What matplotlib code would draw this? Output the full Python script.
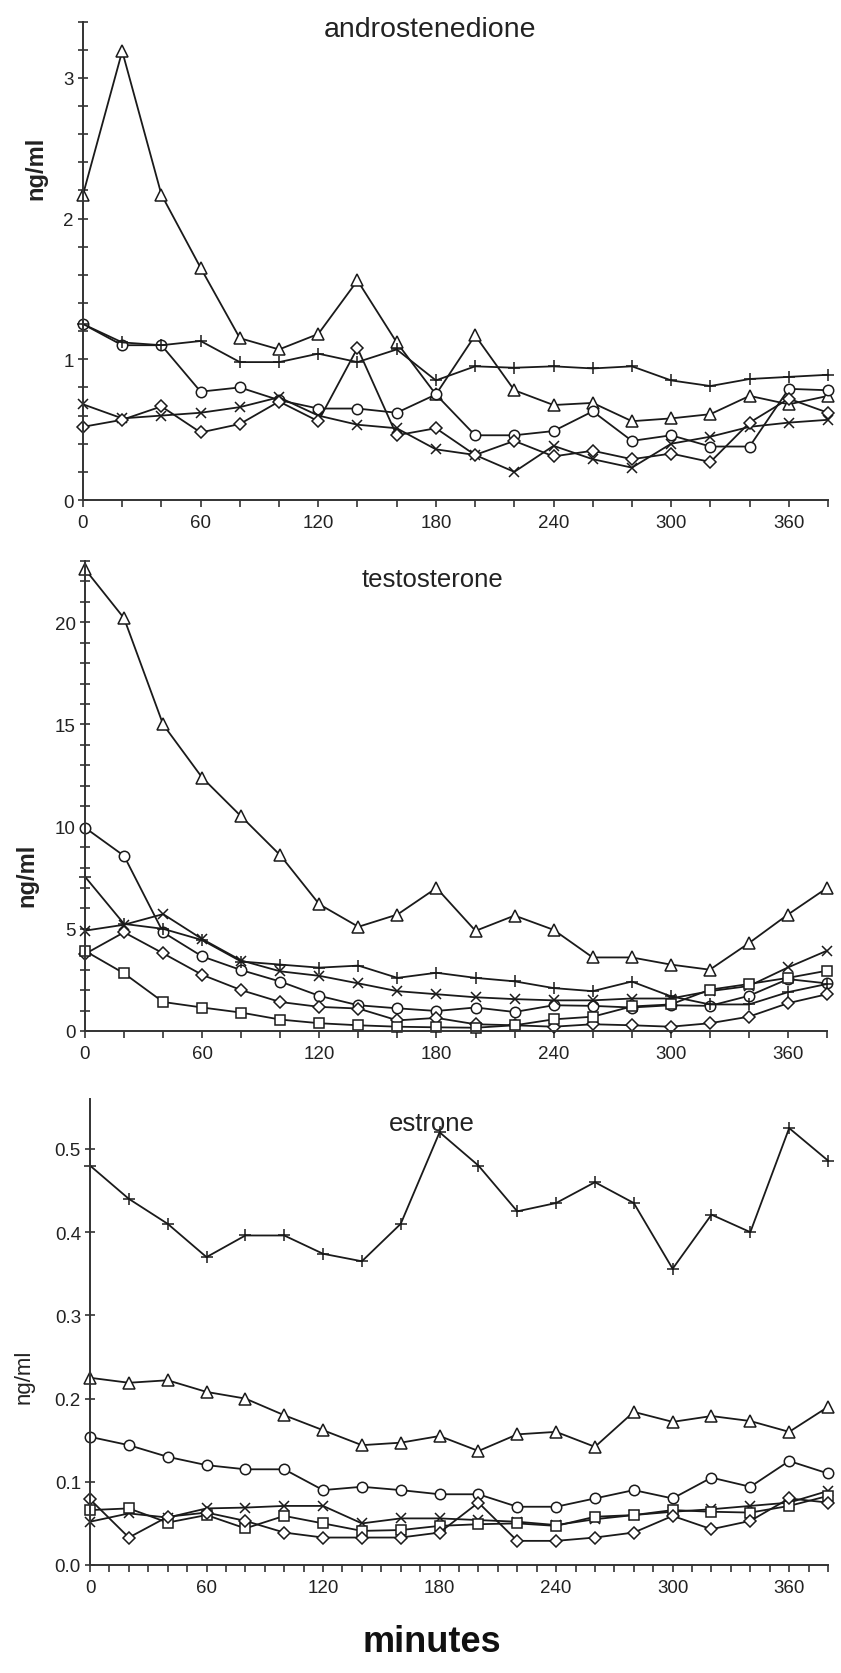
import matplotlib
matplotlib.use('Agg')
import matplotlib.pyplot as plt
from matplotlib.ticker import MultipleLocator, FormatStrFormatter

plt.rcParams['font.family'] = ['Liberation Sans', 'DejaVu Sans']

minutes = [0, 20, 40, 60, 80, 100, 120, 140, 160, 180,
           200, 220, 240, 260, 280, 300, 320, 340, 360, 380]

# androstenedione, ng/ml
andro_tri = [2.17, 3.19, 2.17, 1.65, 1.15, 1.07, 1.18, 1.56, 1.12, 0.75,
             1.17, 0.78, 0.675, 0.69, 0.56, 0.58, 0.61, 0.74, 0.68, 0.74]
andro_circle = [1.25, 1.10, 1.10, 0.77, 0.80, 0.71, 0.65, 0.65, 0.62, 0.75,
                0.46, 0.46, 0.49, 0.63, 0.42, 0.46, 0.38, 0.38, 0.79, 0.78]
andro_plus = [1.25, 1.12, 1.10, 1.13, 0.98, 0.98, 1.04, 0.98, 1.07, 0.85,
              0.95, 0.94, 0.95, 0.935, 0.95, 0.85, 0.81, 0.86, 0.875, 0.89]
andro_x = [0.68, 0.58, 0.60, 0.62, 0.66, 0.73, 0.60, 0.535, 0.51, 0.36,
           0.32, 0.20, 0.385, 0.29, 0.23, 0.40, 0.45, 0.52, 0.55, 0.57]
andro_diamond = [0.52, 0.57, 0.665, 0.48, 0.54, 0.70, 0.56, 1.08, 0.46, 0.51,
                 0.32, 0.42, 0.31, 0.35, 0.29, 0.33, 0.27, 0.55, 0.72, 0.62]

# testosterone, ng/ml
testo_tri = [22.6, 20.2, 15.0, 12.4, 10.5, 8.6, 6.2, 5.1, 5.7, 7.0,
             4.9, 5.65, 4.95, 3.6, 3.6, 3.25, 3.0, 4.3, 5.7, 7.0]
testo_circle = [9.95, 8.57, 4.83, 3.65, 2.98, 2.42, 1.72, 1.26, 1.11, 0.98,
                1.15, 0.93, 1.26, 1.23, 1.15, 1.26, 1.23, 1.72, 2.54, 2.33]
testo_plus = [7.55, 5.24, 5.0, 4.45, 3.4, 3.25, 3.1, 3.2, 2.6, 2.85,
              2.6, 2.43, 2.1, 1.95, 2.42, 1.7, 1.3, 1.3, 1.9, 2.3]
testo_x = [4.91, 5.2, 5.72, 4.5, 3.45, 2.92, 2.7, 2.33, 1.95, 1.8,
           1.65, 1.56, 1.5, 1.5, 1.59, 1.59, 1.95, 2.2, 3.11, 3.93]
testo_diamond = [3.77, 4.83, 3.8, 2.75, 2.0, 1.42, 1.18, 1.1, 0.52, 0.64,
                 0.33, 0.28, 0.21, 0.33, 0.28, 0.21, 0.38, 0.7, 1.36, 1.8]
testo_square = [3.92, 2.82, 1.42, 1.15, 0.9, 0.56, 0.38, 0.28, 0.21, 0.18,
                0.16, 0.28, 0.57, 0.7, 1.2, 1.3, 2.02, 2.3, 2.6, 2.95]

# estrone, ng/ml
estr_plus = [0.480, 0.440, 0.410, 0.370, 0.396, 0.396, 0.374, 0.365, 0.410, 0.520,
             0.480, 0.425, 0.435, 0.460, 0.435, 0.356, 0.421, 0.400, 0.525, 0.486]
estr_tri = [0.225, 0.219, 0.222, 0.208, 0.200, 0.180, 0.162, 0.144, 0.147, 0.155,
            0.137, 0.157, 0.160, 0.142, 0.184, 0.172, 0.179, 0.173, 0.160, 0.190]
estr_circle = [0.154, 0.144, 0.130, 0.120, 0.115, 0.115, 0.090, 0.094, 0.090, 0.085,
               0.085, 0.070, 0.070, 0.080, 0.090, 0.080, 0.105, 0.094, 0.125, 0.110]
estr_x = [0.052, 0.062, 0.057, 0.068, 0.069, 0.071, 0.071, 0.050, 0.056, 0.056,
          0.054, 0.052, 0.048, 0.055, 0.060, 0.064, 0.067, 0.071, 0.075, 0.089]
estr_square = [0.066, 0.068, 0.051, 0.060, 0.044, 0.059, 0.050, 0.041, 0.042, 0.047,
               0.049, 0.050, 0.047, 0.058, 0.060, 0.066, 0.064, 0.063, 0.071, 0.083]
estr_diamond = [0.079, 0.033, 0.058, 0.063, 0.053, 0.039, 0.033, 0.033, 0.033, 0.039,
                0.075, 0.029, 0.029, 0.033, 0.039, 0.059, 0.043, 0.053, 0.080, 0.075]

x_major = [0, 60, 120, 180, 240, 300, 360]

markers = {
    'tri': dict(marker='^', ms=8),
    'circle': dict(marker='o', ms=7.5),
    'plus': dict(marker='+', ms=9),
    'x': dict(marker='x', ms=7.5),
    'diamond': dict(marker='D', ms=6),
    'square': dict(marker='s', ms=6.5),
}

ink = '#1a1a1a'


def draw_series(ax, values, kind):
    st = markers[kind]
    ax.plot(minutes, values, color=ink, lw=1.3, marker=st['marker'],
            ms=st['ms'], mfc='white', mec=ink, mew=1.1, clip_on=False)


def style_axis(ax, ymax, ymajor, yminor, xminor, fmt):
    ax.set_xlim(0, 380)
    ax.set_ylim(0, ymax)
    for side in ['top', 'right']:
        ax.spines[side].set_visible(False)
    for side in ['left', 'bottom']:
        ax.spines[side].set_color('#333333')
        ax.spines[side].set_linewidth(1.4)
    ax.set_xticks(x_major)
    ax.xaxis.set_minor_locator(MultipleLocator(xminor))
    ax.yaxis.set_major_locator(MultipleLocator(ymajor))
    if yminor:
        ax.yaxis.set_minor_locator(MultipleLocator(yminor))
    ax.yaxis.set_major_formatter(FormatStrFormatter(fmt))
    ax.tick_params(axis='x', which='both', direction='out', length=5,
                   width=1.2, color='#333333', labelsize=13.5, pad=5,
                   labelcolor='#222222')
    ax.tick_params(axis='y', which='both', direction='inout', length=7,
                   width=1.2, color='#333333', labelsize=13.5, pad=3,
                   labelcolor='#222222')


fig = plt.figure(figsize=(8.41, 16.74), dpi=100)
W, H = 841.0, 1674.0


def place(x0, x1, ytop, ybot):
    return fig.add_axes([x0 / W, 1 - ybot / H, (x1 - x0) / W, (ybot - ytop) / H])


# androstenedione
ax1 = place(83, 828, 22.6, 501)
draw_series(ax1, andro_tri, 'tri')
draw_series(ax1, andro_circle, 'circle')
draw_series(ax1, andro_plus, 'plus')
draw_series(ax1, andro_x, 'x')
draw_series(ax1, andro_diamond, 'diamond')
style_axis(ax1, 3.4, 1, 0.2, 20, '%d')
fig.text(430 / W, 1 - 30 / H, 'androstenedione', ha='center', va='center',
         fontsize=20.5, color='#222222')
fig.text(36 / W, 1 - 168 / H, 'ng/ml', rotation=90, ha='center',
         va='center', fontsize=17, fontweight='bold', color='#222222')

# testosterone
ax2 = place(85, 827, 562, 1032)
draw_series(ax2, testo_tri, 'tri')
draw_series(ax2, testo_circle, 'circle')
draw_series(ax2, testo_plus, 'plus')
draw_series(ax2, testo_x, 'x')
draw_series(ax2, testo_diamond, 'diamond')
draw_series(ax2, testo_square, 'square')
style_axis(ax2, 23, 5, 1, 20, '%d')
fig.text(432 / W, 1 - 580 / H, 'testosterone', ha='center', va='center',
         fontsize=18.5, color='#222222')
fig.text(27 / W, 1 - 875 / H, 'ng/ml', rotation=90, ha='center',
         va='center', fontsize=17, fontweight='bold', color='#222222')

# estrone
ax3 = place(90, 828, 1100, 1566)
draw_series(ax3, estr_plus, 'plus')
draw_series(ax3, estr_tri, 'tri')
draw_series(ax3, estr_circle, 'circle')
draw_series(ax3, estr_x, 'x')
draw_series(ax3, estr_square, 'square')
draw_series(ax3, estr_diamond, 'diamond')
style_axis(ax3, 0.56, 0.1, None, 10, '%.1f')
fig.text(432 / W, 1 - 1124 / H, 'estrone', ha='center', va='center',
         fontsize=18.5, color='#222222')
fig.text(24 / W, 1 - 1377 / H, 'ng/ml', rotation=90, ha='center',
         va='center', fontsize=16, color='#222222')

fig.text(432 / W, 1 - 1643 / H, 'minutes', ha='center', va='center',
         fontsize=26, fontweight='bold', color='#111111')

fig.savefig('out.png', dpi=100)
